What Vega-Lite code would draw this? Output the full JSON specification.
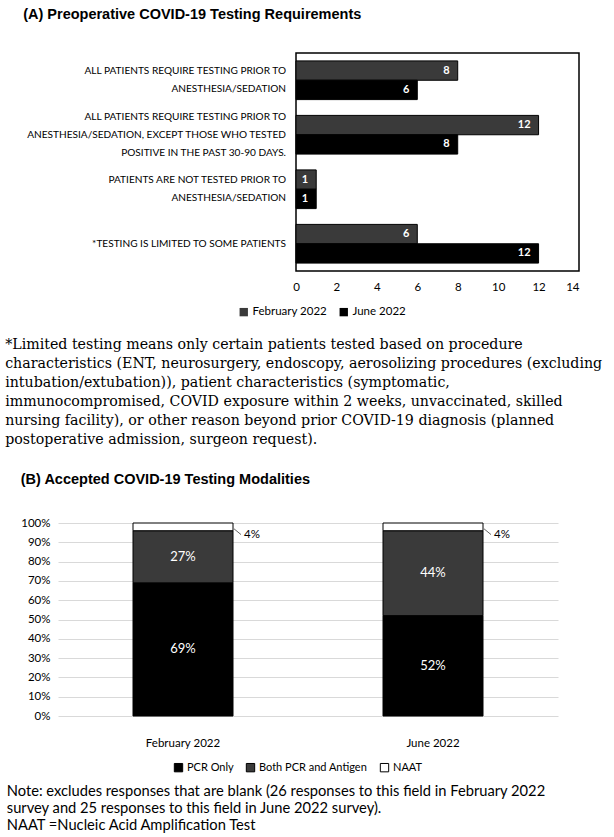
{
  "$schema": "https://vega.github.io/schema/vega-lite/v6.json",
  "background": "white",
  "padding": {"left": 5, "top": 6, "right": 5, "bottom": 0},
  "spacing": 23,
  "columns": 1,
  "align": "none",
  "resolve": {"scale": {"x": "independent", "y": "independent", "color": "independent"}, "legend": {"color": "independent"}, "axis": {"x": "independent", "y": "independent"}},
  "config": {
    "font": "Lato",
    "view": {"stroke": null},
    "axis": {"labelFont": "Lato", "labelColor": "#000", "titleFont": "Lato", "labelOverlap": false},
    "legend": {"labelFont": "Lato", "labelColor": "#000"}
  },
  "datasets": {
    "req": [
      {"requirement": "ALL PATIENTS REQUIRE TESTING PRIOR TO ANESTHESIA/SEDATION", "period": "February 2022", "count": 8},
      {"requirement": "ALL PATIENTS REQUIRE TESTING PRIOR TO ANESTHESIA/SEDATION", "period": "June 2022", "count": 6},
      {"requirement": "ALL PATIENTS REQUIRE TESTING PRIOR TO ANESTHESIA/SEDATION, EXCEPT THOSE WHO TESTED POSITIVE IN THE PAST 30-90 DAYS.", "period": "February 2022", "count": 12},
      {"requirement": "ALL PATIENTS REQUIRE TESTING PRIOR TO ANESTHESIA/SEDATION, EXCEPT THOSE WHO TESTED POSITIVE IN THE PAST 30-90 DAYS.", "period": "June 2022", "count": 8},
      {"requirement": "PATIENTS ARE NOT TESTED PRIOR TO ANESTHESIA/SEDATION", "period": "February 2022", "count": 1},
      {"requirement": "PATIENTS ARE NOT TESTED PRIOR TO ANESTHESIA/SEDATION", "period": "June 2022", "count": 1},
      {"requirement": "*TESTING IS LIMITED TO SOME PATIENTS", "period": "February 2022", "count": 6},
      {"requirement": "*TESTING IS LIMITED TO SOME PATIENTS", "period": "June 2022", "count": 12}
    ],
    "cats": [
      {"requirement": "ALL PATIENTS REQUIRE TESTING PRIOR TO ANESTHESIA/SEDATION", "lines": ["ALL PATIENTS REQUIRE TESTING PRIOR TO", "ANESTHESIA/SEDATION"]},
      {"requirement": "ALL PATIENTS REQUIRE TESTING PRIOR TO ANESTHESIA/SEDATION, EXCEPT THOSE WHO TESTED POSITIVE IN THE PAST 30-90 DAYS.", "lines": ["ALL PATIENTS REQUIRE TESTING PRIOR TO", "ANESTHESIA/SEDATION, EXCEPT THOSE WHO TESTED", "POSITIVE IN THE PAST 30-90 DAYS."]},
      {"requirement": "PATIENTS ARE NOT TESTED PRIOR TO ANESTHESIA/SEDATION", "lines": ["PATIENTS ARE NOT TESTED PRIOR TO", "ANESTHESIA/SEDATION"]},
      {"requirement": "*TESTING IS LIMITED TO SOME PATIENTS", "lines": ["*TESTING IS LIMITED TO SOME PATIENTS"]}
    ],
    "mod": [
      {"period": "February 2022", "modality": "PCR Only", "rank": 1, "share": 0.69},
      {"period": "February 2022", "modality": "Both PCR and Antigen", "rank": 2, "share": 0.27},
      {"period": "February 2022", "modality": "NAAT", "rank": 3, "share": 0.04},
      {"period": "June 2022", "modality": "PCR Only", "rank": 1, "share": 0.52},
      {"period": "June 2022", "modality": "Both PCR and Antigen", "rank": 2, "share": 0.44},
      {"period": "June 2022", "modality": "NAAT", "rank": 3, "share": 0.04}
    ]
  },
  "concat": [
    {
      "title": {
        "text": [
          "*Limited testing means only certain patients tested based on procedure",
          "characteristics (ENT, neurosurgery, endoscopy, aerosolizing procedures (excluding",
          "intubation/extubation)), patient characteristics (symptomatic,",
          "immunocompromised, COVID exposure within 2 weeks, unvaccinated, skilled",
          "nursing facility), or other reason beyond prior COVID-19 diagnosis (planned",
          "postoperative admission, surgeon request)."
        ],
        "orient": "bottom",
        "anchor": "start",
        "frame": "bounds",
        "font": "DejaVu Serif",
        "fontSize": 14.2,
        "fontWeight": "normal",
        "lineHeight": 19,
        "color": "#000",
        "offset": 20,
        "dx": -18
      },
      "vconcat": [
        {
          "width": 521,
          "height": 218,
          "title": {
            "text": "(A) Preoperative COVID-19 Testing Requirements",
            "anchor": "start",
            "frame": "bounds",
            "font": "Liberation Sans",
            "fontSize": 14.5,
            "fontWeight": "bold",
            "color": "#000",
            "offset": 30,
            "dx": -3
          },
          "encoding": {
            "x": {
              "type": "quantitative",
              "title": null,
              "scale": {"domain": [-11.774, 14], "nice": false, "zero": false},
              "axis": {
                "values": [0, 2, 4, 6, 8, 10, 12, 14],
                "grid": false,
                "domain": false,
                "ticks": false,
                "labelFontSize": 11.5,
                "labelPadding": 10
              }
            }
          },
          "layer": [
            {
              "data": {"values": [{"lo": 0, "hi": 14}]},
              "mark": {"type": "rect", "fill": null, "fillOpacity": 0, "stroke": "#000", "strokeWidth": 1.5},
              "encoding": {
                "x": {"field": "lo", "type": "quantitative"},
                "x2": {"field": "hi"}
              }
            },
            {
              "data": {"name": "req"},
              "mark": {"type": "bar", "stroke": "#000", "strokeWidth": 1},
              "encoding": {
                "x": {"field": "count", "type": "quantitative"},
                "y": {
                  "field": "requirement",
                  "type": "nominal",
                  "sort": null,
                  "title": null,
                  "axis": null,
                  "scale": {"paddingInner": 0.29, "paddingOuter": 0.145}
                },
                "yOffset": {"field": "period", "type": "nominal", "sort": ["February 2022", "June 2022"]},
                "color": {
                  "field": "period",
                  "type": "nominal",
                  "scale": {"domain": ["February 2022", "June 2022"], "range": ["#3a3a3a", "#000000"]},
                  "legend": {
                    "title": null,
                    "orient": "none",
                    "direction": "horizontal",
                    "legendX": 180,
                    "legendY": 253,
                    "symbolType": "square",
                    "symbolSize": 70,
                    "symbolStrokeWidth": 0,
                    "labelFontSize": 11.5,
                    "columnPadding": 10,
                    "labelOffset": 3
                  }
                }
              }
            },
            {
              "data": {"name": "req"},
              "mark": {"type": "text", "align": "right", "dx": -8, "color": "#fff", "fontSize": 11, "fontWeight": "bold", "font": "Lato"},
              "encoding": {
                "x": {"field": "count", "type": "quantitative"},
                "y": {"field": "requirement", "type": "nominal", "sort": null},
                "yOffset": {"field": "period", "type": "nominal", "sort": ["February 2022", "June 2022"]},
                "text": {"field": "count", "type": "quantitative"}
              }
            },
            {
              "data": {"name": "cats"},
              "transform": [{"filter": "length(datum.lines) === 1"}],
              "mark": {"type": "text", "align": "right", "baseline": "middle", "dx": -10, "dy": 0, "color": "#000", "fontSize": 10.1, "lineHeight": 18, "font": "Lato"},
              "encoding": {
                "x": {"datum": 0, "type": "quantitative"},
                "y": {"field": "requirement", "type": "nominal", "sort": null},
                "text": {"field": "lines", "type": "nominal"}
              }
            },
            {
              "data": {"name": "cats"},
              "transform": [{"filter": "length(datum.lines) === 2"}],
              "mark": {"type": "text", "align": "right", "baseline": "middle", "dx": -10, "dy": -9, "color": "#000", "fontSize": 10.1, "lineHeight": 18, "font": "Lato"},
              "encoding": {
                "x": {"datum": 0, "type": "quantitative"},
                "y": {"field": "requirement", "type": "nominal", "sort": null},
                "text": {"field": "lines", "type": "nominal"}
              }
            },
            {
              "data": {"name": "cats"},
              "transform": [{"filter": "length(datum.lines) === 3"}],
              "mark": {"type": "text", "align": "right", "baseline": "middle", "dx": -10, "dy": -18, "color": "#000", "fontSize": 10.1, "lineHeight": 18, "font": "Lato"},
              "encoding": {
                "x": {"datum": 0, "type": "quantitative"},
                "y": {"field": "requirement", "type": "nominal", "sort": null},
                "text": {"field": "lines", "type": "nominal"}
              }
            }
          ]
        }
      ]
    },
    {
      "title": {
        "text": [
          "Note: excludes responses that are blank (26 responses to this field in February 2022",
          "survey and 25 responses to this field in June 2022 survey).",
          "NAAT =Nucleic Acid Amplification Test"
        ],
        "orient": "bottom",
        "anchor": "start",
        "frame": "bounds",
        "font": "Lato",
        "fontSize": 14.7,
        "fontWeight": "normal",
        "lineHeight": 17,
        "color": "#000",
        "offset": 10,
        "dx": -14
      },
      "vconcat": [
        {
          "width": 500,
          "height": 193,
          "title": {
            "text": "(B) Accepted COVID-19 Testing Modalities",
            "anchor": "start",
            "frame": "bounds",
            "font": "Liberation Sans",
            "fontSize": 14.5,
            "fontWeight": "bold",
            "color": "#000",
            "offset": 30,
            "dx": 0
          },
          "data": {"name": "mod"},
          "encoding": {
            "x": {
              "field": "period",
              "type": "nominal",
              "title": null,
              "scale": {"paddingInner": 0.6, "paddingOuter": 0.3},
              "axis": {"labelAngle": 0, "labelFontSize": 11.5, "labelPadding": 21, "ticks": false, "domain": false}
            }
          },
          "layer": [
            {
              "mark": {"type": "bar", "stroke": "#000", "strokeWidth": 1},
              "encoding": {
                "y": {
                  "field": "share",
                  "type": "quantitative",
                  "stack": "zero",
                  "title": null,
                  "scale": {"domain": [0, 1], "nice": false},
                  "axis": {
                    "values": [0, 0.1, 0.2, 0.3, 0.4, 0.5, 0.6, 0.7, 0.8, 0.9, 1],
                    "format": ".0%",
                    "labelOverlap": false,
                    "labelFontSize": 11.5,
                    "labelPadding": 8,
                    "gridColor": "#d9d9d9",
                    "gridWidth": 1,
                    "domain": false,
                    "ticks": false
                  }
                },
                "order": {"field": "rank", "type": "quantitative"},
                "color": {
                  "field": "modality",
                  "type": "nominal",
                  "scale": {"domain": ["PCR Only", "Both PCR and Antigen", "NAAT"], "range": ["#000000", "#3a3a3a", "#ffffff"]},
                  "legend": {
                    "title": null,
                    "orient": "none",
                    "direction": "horizontal",
                    "columns": 3,
                    "legendX": 115,
                    "legendY": 239,
                    "symbolType": "square",
                    "symbolSize": 70,
                    "symbolStrokeColor": "#000",
                    "symbolStrokeWidth": 1,
                    "labelFontSize": 11,
                    "columnPadding": 10,
                    "labelOffset": 3
                  }
                }
              }
            },
            {
              "transform": [{"filter": "datum.modality !== 'NAAT'"}],
              "mark": {"type": "text", "color": "#fff", "fontSize": 13, "font": "Lato"},
              "encoding": {
                "y": {
                  "field": "share",
                  "type": "quantitative",
                  "stack": "zero",
                  "bandPosition": 0.5,
                  "title": null,
                  "axis": {
                    "values": [0, 0.1, 0.2, 0.3, 0.4, 0.5, 0.6, 0.7, 0.8, 0.9, 1],
                    "format": ".0%",
                    "labelOverlap": false,
                    "labelFontSize": 11.5,
                    "labelPadding": 8,
                    "gridColor": "#d9d9d9",
                    "gridWidth": 1,
                    "domain": false,
                    "ticks": false
                  }
                },
                "order": {"field": "rank", "type": "quantitative"},
                "text": {"field": "share", "type": "quantitative", "format": ".0%"},
                "fontWeight": {"condition": {"test": "datum.modality === 'Both PCR and Antigen'", "value": "bold"}, "value": "normal"}
              }
            },
            {
              "transform": [{"filter": "datum.modality === 'NAAT'"}],
              "mark": {"type": "rule", "color": "#666", "strokeWidth": 1, "xOffset": 51, "x2Offset": 58},
              "encoding": {
                "x2": {"field": "period"},
                "y": {
                  "datum": 0.97,
                  "type": "quantitative",
                  "title": null,
                  "axis": {
                    "values": [0, 0.1, 0.2, 0.3, 0.4, 0.5, 0.6, 0.7, 0.8, 0.9, 1],
                    "format": ".0%",
                    "labelOverlap": false,
                    "labelFontSize": 11.5,
                    "labelPadding": 8,
                    "gridColor": "#d9d9d9",
                    "gridWidth": 1,
                    "domain": false,
                    "ticks": false
                  }
                },
                "y2": {"datum": 0.94}
              }
            },
            {
              "transform": [{"filter": "datum.modality === 'NAAT'"}],
              "mark": {"type": "text", "align": "left", "dx": 61, "color": "#000", "fontSize": 11.5, "font": "Lato"},
              "encoding": {
                "y": {
                  "datum": 0.94,
                  "type": "quantitative",
                  "title": null,
                  "axis": {
                    "values": [0, 0.1, 0.2, 0.3, 0.4, 0.5, 0.6, 0.7, 0.8, 0.9, 1],
                    "format": ".0%",
                    "labelOverlap": false,
                    "labelFontSize": 11.5,
                    "labelPadding": 8,
                    "gridColor": "#d9d9d9",
                    "gridWidth": 1,
                    "domain": false,
                    "ticks": false
                  }
                },
                "text": {"field": "share", "type": "quantitative", "format": ".0%"}
              }
            }
          ]
        }
      ]
    }
  ]
}
